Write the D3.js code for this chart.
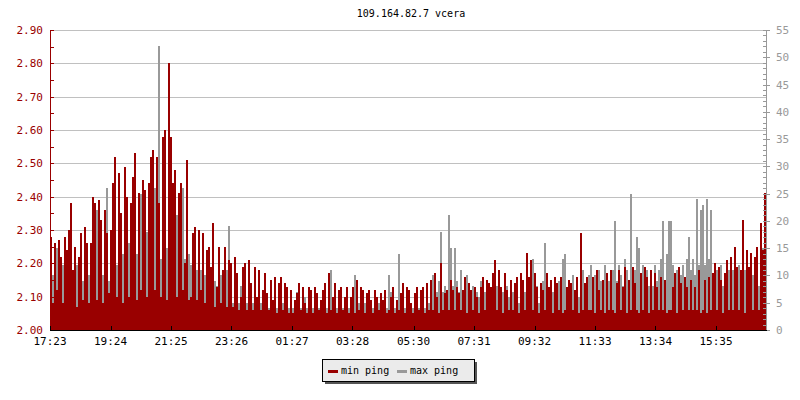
<!DOCTYPE html>
<html>
<head>
<meta charset="utf-8">
<script src="https://cdn.jsdelivr.net/npm/d3@7"></script>
<style>
  html, body { margin: 0; padding: 0; background: #fff; }
  svg { display: block; }
  text { font-family: "DejaVu Sans Mono", monospace; }
</style>
</head>
<body>
<svg id="chart" width="800" height="400"></svg>
<script>
// ---------------- data ----------------
const title = "109.164.82.7 vcera";
const seriesNames = ["min ping", "max ping"];
const startTime = "17:23";
const stepMinutes = 4;
const xTickLabels = ["17:23","19:24","21:25","23:26","01:27","03:28","05:30","07:31","09:32","11:33","13:34","15:35"];
const leftTicks = [2.00,2.10,2.20,2.30,2.40,2.50,2.60,2.70,2.80,2.90];
const rightTicks = [0,5,10,15,20,25,30,35,40,45,50,55];

const minPing = [
2.28,2.08,2.26,2.12,2.27,2.22,2.08,2.28,2.24,2.30,
2.38,2.18,2.25,2.07,2.22,2.29,2.09,2.31,2.26,2.08,
2.26,2.40,2.38,2.09,2.39,2.33,2.08,2.36,2.29,2.11,
2.30,2.44,2.52,2.10,2.47,2.35,2.08,2.49,2.40,2.10,
2.38,2.46,2.53,2.09,2.41,2.12,2.45,2.42,2.10,2.44,
2.52,2.54,2.12,2.52,2.38,2.10,2.58,2.60,2.09,2.80,
2.58,2.44,2.48,2.10,2.41,2.44,2.12,2.20,2.51,2.09,
2.10,2.29,2.31,2.09,2.30,2.12,2.29,2.08,2.24,2.25,
2.19,2.32,2.07,2.13,2.25,2.08,2.18,2.25,2.07,2.21,
2.20,2.07,2.22,2.17,2.06,2.10,2.19,2.20,2.06,2.21,
2.14,2.06,2.19,2.10,2.18,2.06,2.12,2.17,2.11,2.06,
2.15,2.09,2.16,2.05,2.14,2.16,2.06,2.14,2.13,2.05,
2.12,2.05,2.09,2.11,2.14,2.06,2.13,2.08,2.05,2.13,
2.12,2.05,2.13,2.11,2.06,2.09,2.12,2.14,2.05,2.17,
2.06,2.10,2.14,2.05,2.12,2.13,2.06,2.10,2.13,2.05,
2.10,2.13,2.05,2.15,2.06,2.13,2.12,2.05,2.11,2.12,
2.09,2.05,2.12,2.10,2.06,2.11,2.09,2.12,2.05,2.06,
2.10,2.13,2.05,2.09,2.06,2.11,2.14,2.05,2.13,2.12,
2.08,2.05,2.11,2.13,2.06,2.12,2.13,2.05,2.14,2.06,
2.15,2.06,2.17,2.10,2.05,2.20,2.06,2.11,2.12,2.06,
2.15,2.12,2.06,2.13,2.11,2.06,2.12,2.16,2.05,2.14,
2.12,2.06,2.13,2.10,2.05,2.13,2.16,2.06,2.15,2.14,
2.13,2.17,2.21,2.06,2.18,2.13,2.05,2.17,2.12,2.06,
2.15,2.06,2.14,2.16,2.05,2.17,2.15,2.06,2.23,2.16,
2.21,2.06,2.17,2.13,2.05,2.14,2.12,2.06,2.17,2.13,
2.15,2.05,2.16,2.14,2.06,2.16,2.05,2.06,2.13,2.15,
2.14,2.06,2.12,2.16,2.05,2.29,2.06,2.14,2.16,2.06,
2.06,2.16,2.05,2.18,2.12,2.06,2.15,2.05,2.17,2.06,
2.18,2.06,2.05,2.14,2.18,2.06,2.13,2.19,2.05,2.15,
2.06,2.19,2.14,2.06,2.05,2.17,2.06,2.19,2.16,2.05,
2.18,2.06,2.17,2.13,2.06,2.16,2.06,2.15,2.05,2.06,
2.06,2.13,2.17,2.05,2.19,2.14,2.06,2.16,2.13,2.06,
2.15,2.06,2.13,2.06,2.18,2.05,2.06,2.15,2.05,2.16,
2.06,2.17,2.20,2.06,2.19,2.15,2.05,2.17,2.21,2.06,
2.22,2.06,2.25,2.19,2.06,2.18,2.33,2.05,2.24,2.19,
2.23,2.06,2.22,2.25,2.06,2.32,2.24,2.41
];

const maxPing = [
7,10,9,15,6,8,12,12,6,7,
6,8,5,12,7,6,9,5,7,10,
6,14,8,22,7,6,10,7,26,9,
8,6,12,12,17,7,14,11,22,16,
9,28,8,14,6,25,11,24,18,13,
7,10,26,8,52,13,8,11,15,15,
24,12,9,21,11,8,26,13,9,14,
12,7,9,11,8,11,6,10,9,6,
7,9,9,8,15,10,7,6,11,19,
6,5,7,4,5,8,5,4,5,5,
4,5,5,4,7,5,4,6,4,4,
5,4,6,4,5,4,5,4,5,4,
4,4,3,7,4,4,4,6,4,3,
5,4,6,4,4,5,4,6,4,5,
11,5,4,4,6,4,4,3,4,4,
4,5,10,4,5,5,4,5,4,6,
4,4,5,4,5,4,3,5,4,10,
7,4,4,4,14,5,4,4,5,4,
4,4,4,6,4,5,4,4,6,5,
5,10,6,7,9,18,7,8,7,21,
15,8,15,9,7,11,6,8,10,7,
6,8,5,7,6,9,5,7,6,5,
7,5,6,8,5,6,7,5,8,6,
5,7,6,9,5,6,8,7,6,9,
7,13,6,8,5,7,9,16,7,6,
5,7,6,8,9,6,13,14,7,9,
8,10,7,9,6,8,11,7,9,10,
12,8,10,7,11,9,8,12,10,9,
8,11,20,9,12,10,8,13,11,9,
25,9,11,17,15,10,12,9,11,8,
10,8,12,9,11,13,20,9,14,20,
20,12,9,11,8,10,12,9,13,17,
11,13,10,24,12,22,23,12,24,13,
22,10,8,11,9,12,8,10,9,11,
9,11,8,10,12,9,8,11,9,10,
8,10,9,12,8,10,15,25
];

// ---------------- layout ----------------
const RED = "#990000", GRAY = "#999999", GRID = "#c0c0c0";
const pL = 50, pR = 766, pT = 30, pB = 330;
const totalMinutes = (pR - pL) * 2; // 2 minutes per pixel

function toOffset(label) {
  const [h, m] = label.split(":").map(Number);
  const [h0, m0] = startTime.split(":").map(Number);
  return ((h * 60 + m) - (h0 * 60 + m0) + 1440) % 1440;
}

const svg = d3.select("#chart");
const x = d3.scaleLinear().domain([0, totalMinutes]).range([pL, pR]);
const yL = d3.scaleLinear().domain([2.0, 2.9]).range([pB, pT]);
const yR = d3.scaleLinear().domain([0, 55]).range([pB, pT]);

// title
svg.append("text").attr("x", 411).attr("y", 17).attr("text-anchor", "middle")
  .attr("font-size", 10).attr("fill", "#000").text(title);

// grid
svg.append("g").attr("shape-rendering", "crispEdges").selectAll("line").data(leftTicks.filter(d => d > 2.0)).join("line")
  .attr("x1", pL).attr("x2", pR)
  .attr("y1", d => Math.round(yL(d)) + 0.5).attr("y2", d => Math.round(yL(d)) + 0.5)
  .attr("stroke", GRID).attr("stroke-width", 1);

// bars: max ping (behind), min ping (front)
const bw = x(stepMinutes) - x(0);
svg.append("g").attr("shape-rendering", "crispEdges").selectAll("rect").data(maxPing).join("rect")
  .attr("x", (d, i) => x(i * stepMinutes)).attr("width", bw)
  .attr("y", d => yR(d)).attr("height", d => pB - yR(d))
  .attr("fill", GRAY);
svg.append("g").attr("shape-rendering", "crispEdges").selectAll("rect").data(minPing).join("rect")
  .attr("x", (d, i) => x(i * stepMinutes)).attr("width", bw)
  .attr("y", d => yL(d)).attr("height", d => pB - yL(d))
  .attr("fill", RED);

// left axis
const gL = svg.append("g").attr("shape-rendering", "crispEdges");
gL.append("line").attr("x1", pL + 0.5).attr("x2", pL + 0.5).attr("y1", pT).attr("y2", pB)
  .attr("stroke", RED);
const leftMinor = d3.range(0, 19).map(i => 2.0 + i * 0.05);
gL.selectAll("line.t").data(leftMinor).join("line").attr("class", "t")
  .attr("x1", pL).attr("x2", pL + 4)
  .attr("y1", d => Math.round(yL(d)) + 0.5).attr("y2", d => Math.round(yL(d)) + 0.5)
  .attr("stroke", RED);
gL.selectAll("text").data(leftTicks).join("text")
  .attr("x", 43).attr("y", d => yL(d) + 4).attr("text-anchor", "end")
  .attr("font-size", 11).attr("fill", RED).text(d => d.toFixed(2));

// right axis
const gR = svg.append("g").attr("shape-rendering", "crispEdges");
gR.append("line").attr("x1", pR + 0.5).attr("x2", pR + 0.5).attr("y1", pT).attr("y2", pB)
  .attr("stroke", GRAY);
gR.selectAll("line.m").data(d3.range(0, 56)).join("line").attr("class", "m")
  .attr("x1", pR - 3).attr("x2", pR)
  .attr("y1", d => Math.round(yR(d)) + 0.5).attr("y2", d => Math.round(yR(d)) + 0.5)
  .attr("stroke", GRAY);
gR.selectAll("line.M").data(rightTicks).join("line").attr("class", "M")
  .attr("x1", pR).attr("x2", pR + 4)
  .attr("y1", d => Math.round(yR(d)) + 0.5).attr("y2", d => Math.round(yR(d)) + 0.5)
  .attr("stroke", GRAY);
gR.selectAll("text").data(rightTicks).join("text")
  .attr("x", 776).attr("y", d => yR(d) + 4)
  .attr("font-size", 11).attr("fill", GRAY).text(d => d);

// bottom axis
const gB = svg.append("g").attr("shape-rendering", "crispEdges");
gB.append("line").attr("x1", pL).attr("x2", pR + 1).attr("y1", pB + 0.5).attr("y2", pB + 0.5)
  .attr("stroke", "#000");
gB.selectAll("line.t").data(xTickLabels).join("line").attr("class", "t")
  .attr("x1", d => Math.round(x(toOffset(d))) + 0.5).attr("x2", d => Math.round(x(toOffset(d))) + 0.5)
  .attr("y1", pB - 4).attr("y2", pB)
  .attr("stroke", "#000");
gB.selectAll("text").data(xTickLabels).join("text")
  .attr("x", d => x(toOffset(d))).attr("y", 345).attr("text-anchor", "middle")
  .attr("font-size", 11).attr("fill", "#000").text(d => d);

// legend
const lg = svg.append("g").attr("shape-rendering", "crispEdges");
lg.append("rect").attr("x", 325).attr("y", 362).attr("width", 152).attr("height", 22).attr("fill", "#555");
lg.append("rect").attr("x", 322.5).attr("y", 359.5).attr("width", 152).attr("height", 22)
  .attr("fill", "#ebebeb").attr("stroke", "#000");
const items = [{ name: seriesNames[0], color: RED, x: 328 }, { name: seriesNames[1], color: GRAY, x: 397 }];
items.forEach(it => {
  lg.append("rect").attr("x", it.x).attr("y", 370).attr("width", 10).attr("height", 3).attr("fill", it.color);
  lg.append("text").attr("x", it.x + 13).attr("y", 374).attr("font-size", 10).attr("fill", "#000").text(it.name);
});
</script>
</body>
</html>
